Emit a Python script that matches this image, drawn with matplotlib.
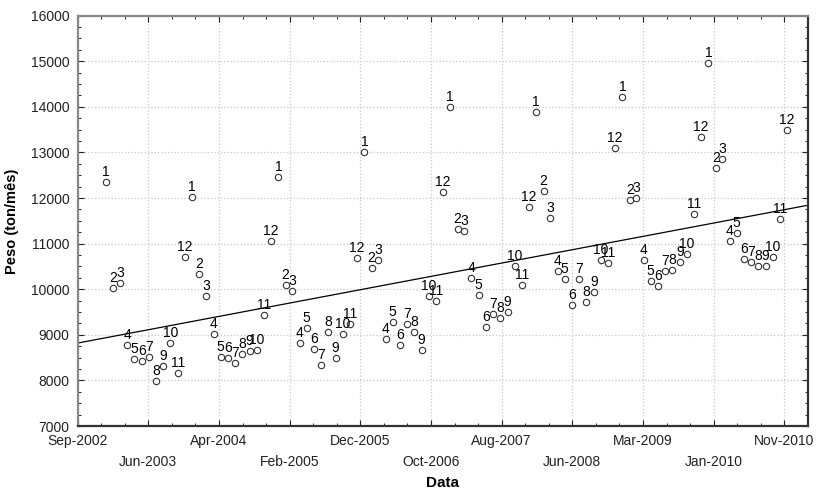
import numpy as np
import pandas as pd
import matplotlib
matplotlib.use("Agg")
import matplotlib.pyplot as plt
import matplotlib.dates as mdates
from matplotlib.ticker import MultipleLocator, AutoMinorLocator

plt.rcParams['font.family'] = ['Liberation Sans', 'DejaVu Sans']

# monthly weight (ton/month), Jan-2003 .. Dec-2010
peso_2003 = [12345, 10020, 10137, 8777, 8477, 8419, 8520, 7994, 8316, 8820, 8163, 10707]
peso_2004 = [12023, 10327, 9858, 9018, 8520, 8498, 8375, 8586, 8645, 8674, 9435, 11058]
peso_2005 = [12455, 10093, 9961, 8820, 9157, 8689, 8331, 9055, 8498, 9018, 9244, 10692]
peso_2006 = [13017, 10459, 10648, 8908, 9281, 8783, 9244, 9055, 8667, 9862, 9738, 12133]
peso_2007 = [13997, 11321, 11277, 10246, 9880, 9179, 9450, 9369, 9494, 10517, 10086, 11811]
peso_2008 = [13888, 12155, 11556, 10407, 10218, 9647, 10218, 9713, 9946, 10648, 10582, 13091]
peso_2009 = [14210, 11957, 12001, 10648, 10187, 10071, 10400, 10415, 10604, 10773, 11643, 13339]
peso_2010 = [14955, 12666, 12857, 11051, 11233, 10663, 10604, 10517, 10517, 10700, 11534, 13486]

tick_labels = ["Sep-2002", "Jun-2003", "Apr-2004", "Feb-2005", "Dec-2005", "Oct-2006",
               "Aug-2007", "Jun-2008", "Mar-2009", "Jan-2010", "Nov-2010"]

peso = np.array(peso_2003 + peso_2004 + peso_2005 + peso_2006 +
                peso_2007 + peso_2008 + peso_2009 + peso_2010, dtype=float)
dates = pd.date_range("2003-01-01", periods=len(peso), freq="MS")
x = mdates.date2num(dates.to_pydatetime())
months = dates.month

fig = plt.figure(figsize=(8.16, 4.9), dpi=100)
ax = fig.add_axes([0.0952, 0.1306, 0.8946, 0.8374])

# axis ticks every 300 days, starting early Sep-2002
t0 = mdates.date2num(pd.Timestamp("2002-09-02").to_pydatetime())
step = 300.0
ticks = t0 + step * np.arange(len(tick_labels))
ax.set_xlim(t0, t0 + step * (len(tick_labels) - 1 + 0.331))
ax.set_ylim(7000, 16000)

# linear trend
coef = np.polyfit(x, peso, 1)
xl = np.array(ax.get_xlim())
ax.plot(xl, np.polyval(coef, xl), color='black', lw=0.9, zorder=2)

ax.plot(x, peso, 'o', ms=4.6, mfc='white', mec='#333333', mew=0.8, zorder=3)
for xi, yi, m in zip(x, peso, months):
    ax.annotate(str(m), (xi, yi), xytext=(0, 4.3), textcoords='offset points',
                ha='center', va='baseline', fontsize=10, color='black', zorder=4)

ax.set_xticks(ticks)
labs = [lab if i % 2 == 0 else "\n" + lab for i, lab in enumerate(tick_labels)]
ax.set_xticklabels(labs)
for t in ax.get_xticklabels():
    t.set_linespacing(1.6)
ax.xaxis.set_minor_locator(AutoMinorLocator(3))
ax.yaxis.set_major_locator(MultipleLocator(1000))
ax.yaxis.set_minor_locator(MultipleLocator(250))

ax.tick_params(which='both', direction='in', top=True, right=True, labelsize=10)
ax.tick_params(which='major', length=4, width=0.8, colors='#222222')
ax.tick_params(which='minor', length=2.5, width=0.7, colors='#222222')
ax.tick_params(axis='x', pad=6)
ax.tick_params(axis='y', pad=6)

ax.grid(True, which='major', color='#c8c8c8', linestyle=':', linewidth=0.9)
ax.set_axisbelow(True)

for side in ['left', 'top']:
    ax.spines[side].set_color('#888888')
    ax.spines[side].set_linewidth(1.6)
for side in ['right', 'bottom']:
    ax.spines[side].set_color('#333333')
    ax.spines[side].set_linewidth(1.6)

ax.set_xlabel("Data", fontsize=11, fontweight='bold', labelpad=5)
ax.set_ylabel("Peso (ton/mês)", fontsize=10.5, fontweight='bold', labelpad=8)

fig.savefig("out.png", dpi=100)
